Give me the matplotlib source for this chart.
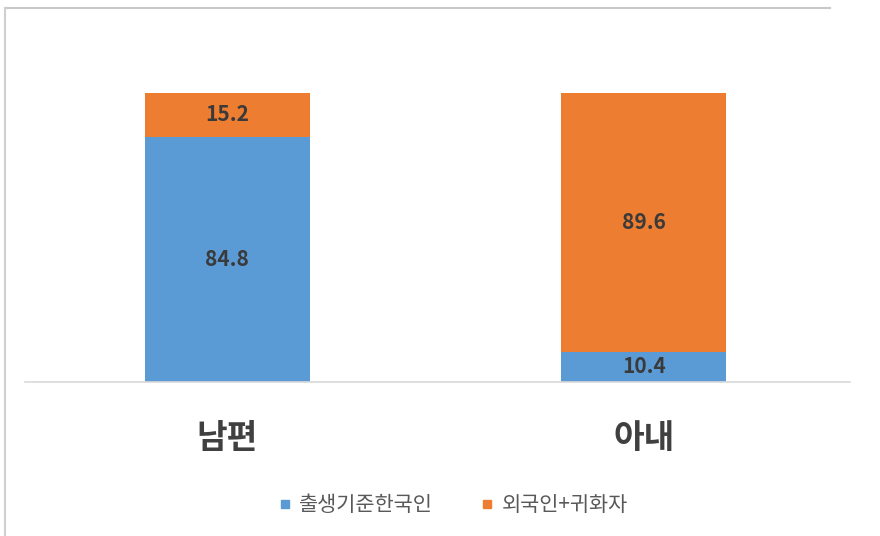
import matplotlib
matplotlib.use("Agg")
import matplotlib.pyplot as plt
from matplotlib.lines import Line2D

plt.rcParams['font.family'] = ['Noto Sans CJK KR', 'DejaVu Sans']

categories = ["남편", "아내"]
series_names = ["출생기준한국인", "외국인+귀화자"]
native = [84.8, 10.4]
foreign = [15.2, 89.6]
colors = ["#5B9BD5", "#ED7D31"]

fig = plt.figure(figsize=(8.8, 5.36), dpi=100)
ax = fig.add_axes([25 / 880, 154 / 536, 825 / 880, 289 / 536])

x = list(range(len(categories)))
ax.bar(x, native, width=0.396, color=colors[0], label=series_names[0])
ax.bar(x, foreign, width=0.396, bottom=native, color=colors[1], label=series_names[1])

for i in x:
    ax.text(i, native[i] / 2, f"{native[i]:.1f}", ha="center", va="center",
            fontsize=15, fontweight="bold", color="#3A3A3A")
    ax.text(i, native[i] + foreign[i] / 2, f"{foreign[i]:.1f}", ha="center", va="center",
            fontsize=15, fontweight="bold", color="#3A3A3A")

ax.set_xlim(-0.485, 1.495)
ax.set_ylim(0, 100)
ax.set_yticks([])
ax.set_xticks(x)
ax.set_xticklabels(categories, fontsize=24, fontweight="bold", color="#404040")
ax.tick_params(axis="x", length=0, pad=29)
for s in ["top", "right", "left"]:
    ax.spines[s].set_visible(False)
ax.spines["bottom"].set_color("#D9D9D9")
ax.spines["bottom"].set_linewidth(1.2)

handles = [Line2D([], [], marker="s", linestyle="none", markersize=6, color=c) for c in colors]
fig.legend(handles, series_names, loc="center", bbox_to_anchor=(446 / 880, 1 - 505 / 536),
           ncol=2, frameon=False, fontsize=15, labelcolor="#595959",
           handletextpad=-0.3, columnspacing=1.6)

# outer frame lines of the pasted chart
fig.add_artist(Line2D([5 / 880, 830 / 880], [1 - 8 / 536, 1 - 8 / 536], color="#C8C8C8", lw=1.5))
fig.add_artist(Line2D([5 / 880, 5 / 880], [1 - 8 / 536, 0], color="#D0D0D0", lw=1.5))

fig.savefig("out.png", dpi=100)
